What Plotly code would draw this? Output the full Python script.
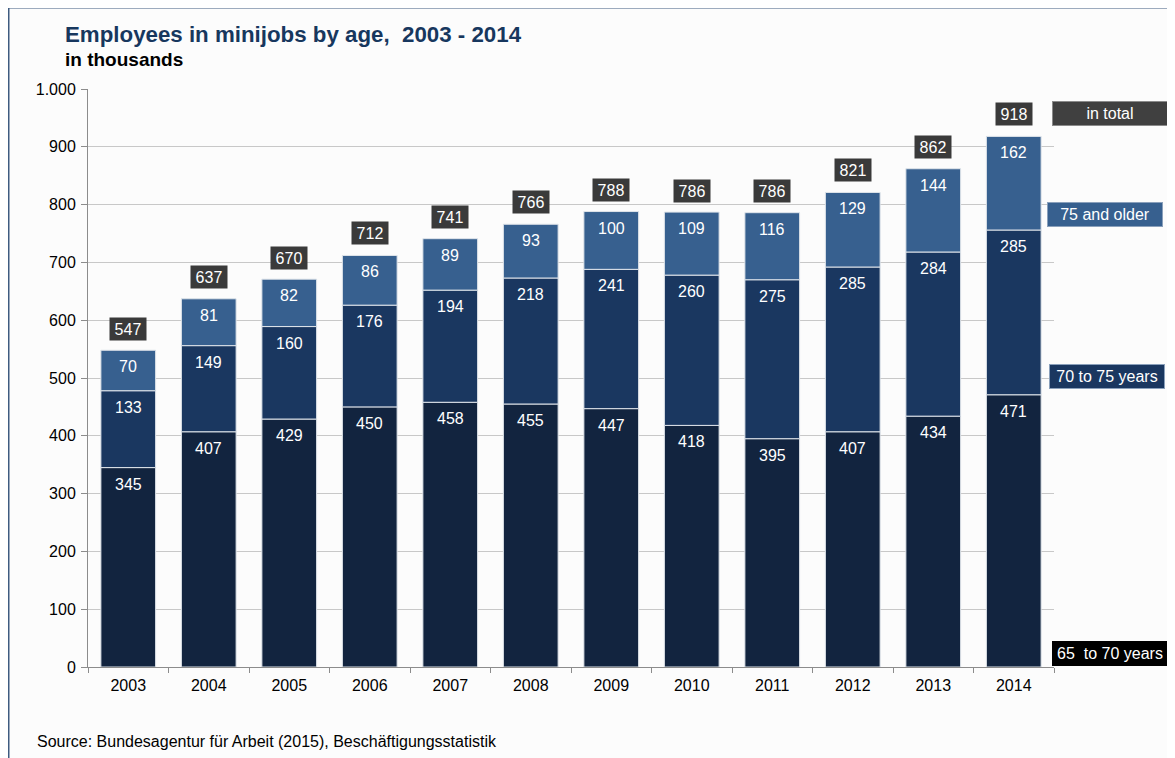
import plotly.graph_objects as go

years = ["2003", "2004", "2005", "2006", "2007", "2008", "2009", "2010", "2011", "2012", "2013", "2014"]
age_65_70 = [345, 407, 429, 450, 458, 455, 447, 418, 395, 407, 434, 471]
age_70_75 = [133, 149, 160, 176, 194, 218, 241, 260, 275, 285, 284, 285]
age_75_plus = [70, 81, 82, 86, 89, 93, 100, 109, 116, 129, 144, 162]
totals = [547, 637, 670, 712, 741, 766, 788, 786, 786, 821, 862, 918]
y_ticks = [0, 100, 200, 300, 400, 500, 600, 700, 800, 900, 1000]
y_tick_labels = ["0", "100", "200", "300", "400", "500", "600", "700", "800", "900", "1.000"]

series = [
    ("65  to 70 years", age_65_70, "#12243f"),
    ("70 to 75 years", age_70_75, "#1a3760"),
    ("75 and older", age_75_plus, "#37608f"),
]

FONT = "Liberation Sans, Arial, sans-serif"
OFF = 8  # page body margin
W, H = 1167, 750
# plot area in screenshot pixels: x 88..1054, y 89..667
ML = 88 - OFF
MT = 89 - OFF
MR = W - (1054 - OFF)
MB = H - (667 - OFF)
PW, PH = W - ML - MR, H - MT - MB


def px_x(p):
    return (p - OFF - ML) / PW


def px_y(p):
    return (MT + PH - (p - OFF)) / PH


fig = go.Figure()
annotations = []
cum = [0] * len(years)
for name, vals, color in series:
    fig.add_trace(go.Bar(
        x=years, y=vals, base=cum[:], name=name,
        marker=dict(color=color, line=dict(color="#dfe4ea", width=1)),
        showlegend=False, hoverinfo="skip",
    ))
    for i, v in enumerate(vals):
        top = cum[i] + v
        annotations.append(dict(
            x=i, y=top, xref="x", yref="y", text=str(v),
            showarrow=False, yanchor="top", yshift=-6,
            font=dict(family=FONT, size=16, color="white"),
        ))
    cum = [c + v for c, v in zip(cum, vals)]

# total boxes
for i, t in enumerate(totals):
    annotations.append(dict(
        x=i, y=t, xref="x", yref="y", text=str(t),
        showarrow=False, yanchor="bottom", yshift=10,
        font=dict(family=FONT, size=16, color="white"),
        bgcolor="#3a3a3a", borderpad=2, width=32, height=18,
    ))

# legend boxes on the right: text, left px, center-y px, bg, border
legend_boxes = [
    ("in total", 1052, 113.5, "#404040", "#8a8a8a"),
    ("75 and older", 1047, 214.5, "#37608f", "#8aa0bb"),
    ("70 to 75 years", 1049, 376.5, "#1a3760", "#8aa0bb"),
    ("65  to 70 years", 1052, 653, "#000000", "#000000"),
]
for text, xl, yc, bg, bd in legend_boxes:
    annotations.append(dict(
        x=px_x(xl), y=px_y(yc), xref="paper", yref="paper",
        xanchor="left", yanchor="middle", text=text, showarrow=False,
        font=dict(family=FONT, size=16, color="white"),
        bgcolor=bg, bordercolor=bd, borderwidth=1, borderpad=3,
        width=108, align="center",
    ))

# titles and source
annotations.append(dict(
    x=px_x(63), y=px_y(35), xref="paper", yref="paper", xanchor="left", yanchor="middle",
    text="<b>Employees in minijobs by age,  2003 - 2014</b>", showarrow=False,
    font=dict(family=FONT, size=22.3, color="#17375e"),
))
annotations.append(dict(
    x=px_x(63), y=px_y(59), xref="paper", yref="paper", xanchor="left", yanchor="middle",
    text="<b>in thousands</b>", showarrow=False,
    font=dict(family=FONT, size=19, color="#000000"),
))
annotations.append(dict(
    x=px_x(35), y=px_y(741), xref="paper", yref="paper", xanchor="left", yanchor="middle",
    text="Source: Bundesagentur für Arbeit (2015), Beschäftigungsstatistik", showarrow=False,
    font=dict(family=FONT, size=16, color="#000000"),
))

fig.update_layout(
    width=W, height=H,
    margin=dict(l=ML, r=MR, t=MT, b=MB, autoexpand=False),
    barmode="overlay", bargap=0.32,
    paper_bgcolor="#fcfcfc", plot_bgcolor="#fcfcfc",
    font=dict(family=FONT, size=16, color="#000000"),
    annotations=annotations,
    shapes=[dict(
        type="rect", xref="paper", yref="paper",
        x0=px_x(8.75), x1=px_x(1200), y0=px_y(800), y1=px_y(7.75),
        line=dict(color="#3e5b80", width=1.5), fillcolor="rgba(0,0,0,0)", layer="above",
    )],
)
fig.update_yaxes(
    range=[0, 1000], tickvals=y_ticks, ticktext=y_tick_labels,
    showgrid=True, gridcolor="#c8c8c8", gridwidth=1,
    showline=True, linecolor="#8c8c8c", linewidth=1,
    ticks="outside", ticklen=6, tickcolor="#8c8c8c",
    tickfont=dict(family=FONT, size=16, color="#000000"),
    ticklabelstandoff=2,
    zeroline=False,
)
fig.update_xaxes(
    type="category", range=[-0.5, len(years) - 0.5],
    showline=True, linecolor="#8c8c8c", linewidth=1,
    ticks="outside", ticklen=5, tickcolor="#8c8c8c", tickson="boundaries",
    tickfont=dict(family=FONT, size=16, color="#000000"),
    ticklabelstandoff=4,
    showgrid=False,
)

fig.write_html("out.html")
